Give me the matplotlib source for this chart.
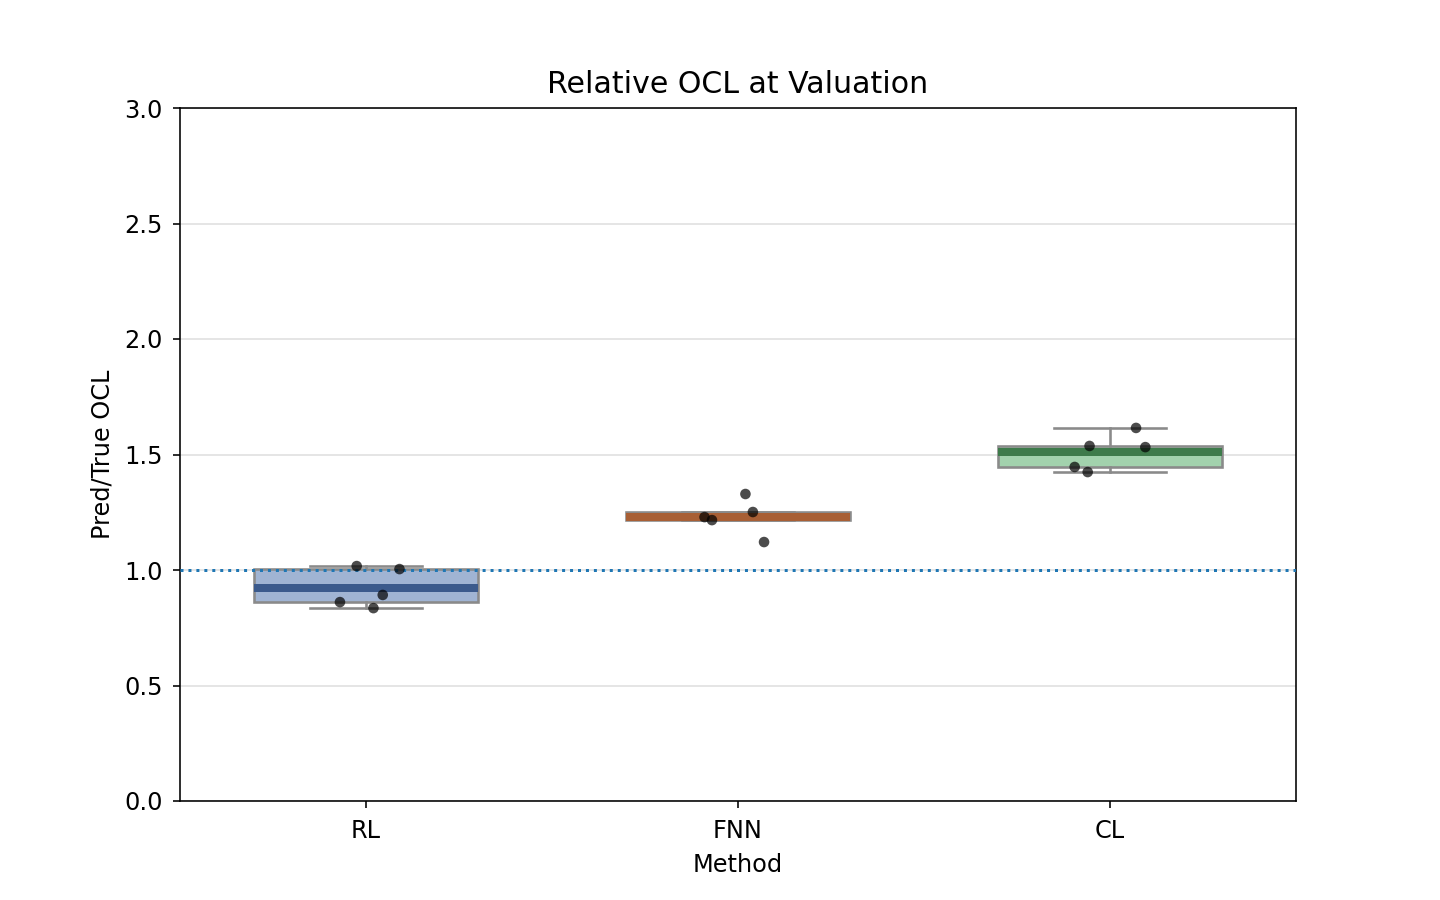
import numpy as np
import matplotlib.pyplot as plt

methods = ['RL', 'FNN', 'CL']
rl = [1.017, 1.004, 0.892, 0.861, 0.835]
fnn = [1.329, 1.251, 1.229, 1.216, 1.121]
cl = [1.615, 1.537, 1.532, 1.446, 1.424]
# x offsets of the jittered points, in category units
rl_jit = [-0.025, 0.09, 0.045, -0.07, 0.02]
fnn_jit = [0.02, 0.04, -0.09, -0.07, 0.07]
cl_jit = [0.07, -0.055, 0.095, -0.095, -0.06]

face = ['#a0b4d3', '#e8b898', '#a2d2ad']
mean_col = ['#3b5a8c', '#a85f35', '#3e7b4b']

plt.rcParams['font.size'] = 12
plt.rcParams['xtick.major.pad'] = 5.5
plt.rcParams['ytick.major.pad'] = 5

fig = plt.figure(figsize=(10, 6.25), dpi=144)
ax = plt.axes()
ax.set_axisbelow(True)
ax.yaxis.grid(True, color='#e5e5e5', linewidth=1)

data = [rl, fnn, cl]
pos = np.arange(len(methods))
bp = ax.boxplot(data, positions=pos, widths=0.6, patch_artist=True,
                showfliers=False, showmeans=True, meanline=True,
                medianprops=dict(color='none'),
                whiskerprops=dict(color='#8a8a8a', linewidth=1.3),
                capprops=dict(color='#8a8a8a', linewidth=1.3),
                boxprops=dict(edgecolor='#8a8a8a', linewidth=1.3),
                whis=1.5, zorder=2)
for i, b in enumerate(bp['boxes']):
    b.set_facecolor(face[i])
for i, m in enumerate(bp['means']):
    m.set_color(mean_col[i])
    m.set_linestyle('-')
    m.set_linewidth(4)

for i, (vals, jit) in enumerate(zip(data, [rl_jit, fnn_jit, cl_jit])):
    ax.scatter(np.array(jit) + i, vals, s=28, color='black', alpha=0.7,
               edgecolors='none', zorder=4)

ax.axhline(1.0, linestyle=':', color='#1f77b4', linewidth=1.5, zorder=3)

ax.set_xticks(pos)
ax.set_xticklabels(methods)
ax.set_xlim(-0.5, 2.5)
ax.set_ylim(0, 3)
ax.set_yticks([0, 0.5, 1.0, 1.5, 2.0, 2.5, 3.0])
ax.set_title('Relative OCL at Valuation', fontsize=15, pad=7.5)
ax.set_ylabel('Pred/True OCL', labelpad=5)
ax.set_xlabel('Method', labelpad=5)

plt.savefig('out.png')
